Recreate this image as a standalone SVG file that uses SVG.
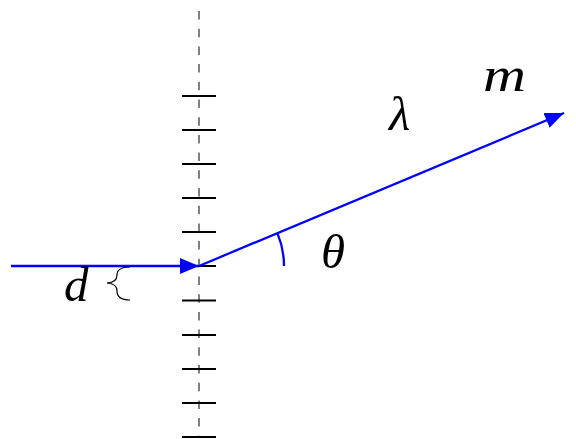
<svg xmlns="http://www.w3.org/2000/svg" width="576" height="439" viewBox="0 0 576 439">
<style>
.tick{stroke:#000;stroke-width:2}
.ray{stroke:#0000ff;stroke-width:2.3;fill:none}
.lbl{font-family:"Liberation Serif","DejaVu Serif",serif;font-style:italic;font-size:49px;fill:#000}
</style>
<defs>
<marker id="ah" markerUnits="userSpaceOnUse" markerWidth="22" markerHeight="18" refX="19" refY="8" orient="auto">
<path d="M0,0 L19,8 L0,16 Z" fill="#0000ff"/>
</marker>
</defs>
<rect width="576" height="439" fill="#fff"/>
<g id="grating">
<line x1="199" y1="11" x2="199" y2="437" stroke="#808080" stroke-width="2" stroke-dasharray="8.5 9.2"/>
<line class="tick" x1="182" y1="96" x2="216" y2="96"/>
<line class="tick" x1="182" y1="130" x2="216" y2="130"/>
<line class="tick" x1="182" y1="164" x2="216" y2="164"/>
<line class="tick" x1="182" y1="198" x2="216" y2="198"/>
<line class="tick" x1="182" y1="232" x2="216" y2="232"/>
<line class="tick" x1="182" y1="266" x2="216" y2="266"/>
<line class="tick" x1="182" y1="300.5" x2="216" y2="300.5"/>
<line class="tick" x1="182" y1="335" x2="216" y2="335"/>
<line class="tick" x1="182" y1="369" x2="216" y2="369"/>
<line class="tick" x1="182" y1="403" x2="216" y2="403"/>
<line class="tick" x1="182" y1="437" x2="216" y2="437"/>
</g>
<g id="connectors">
<line class="ray" x1="11" y1="266" x2="199" y2="266" marker-end="url(#ah)"/>
<line class="ray" x1="199" y1="266" x2="564" y2="113" marker-end="url(#ah)"/>
<path class="ray" d="M284,266 A85,85 0 0 0 277.4,233.1"/>
</g>
<g id="brace">
<path d="M130,267 Q117,267 117,275 Q117,282.5 107,283 Q117,283.5 117,291 Q117,300 130,300" fill="none" stroke="#000" stroke-width="1.2"/>
</g>
<g id="labels">
<text class="lbl" x="483" y="91" textLength="43" lengthAdjust="spacingAndGlyphs">m</text>
<text class="lbl" x="389" y="130">λ</text>
<text class="lbl" x="321" y="268">θ</text>
<text class="lbl" x="64" y="301">d</text>
</g>
</svg>
